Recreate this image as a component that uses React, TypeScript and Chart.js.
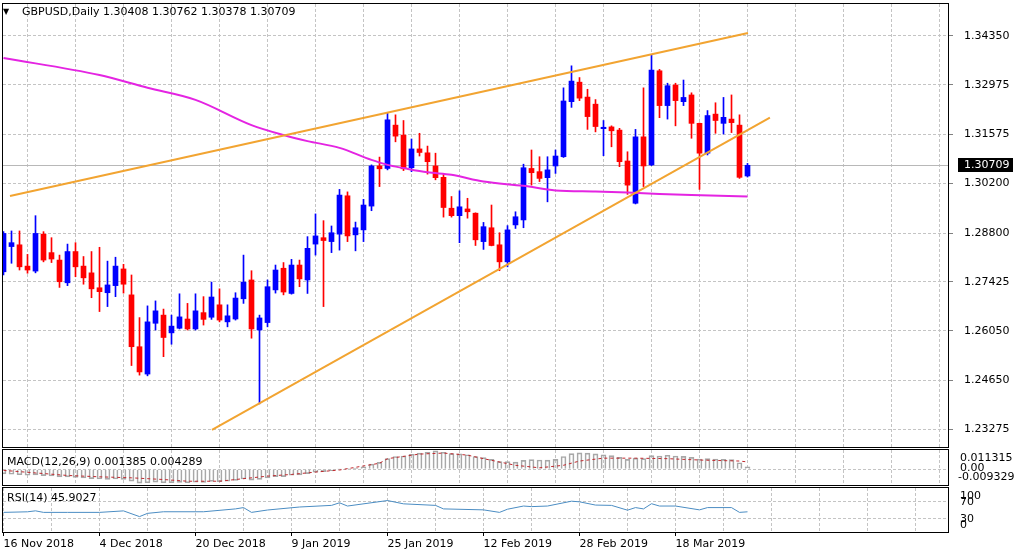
import React, { useEffect, useRef } from "react";
import { Chart, registerables } from "chart.js";

Chart.register(...registerables);

// ---------------- data ----------------
const SYMBOL = "GBPUSD";
const PERIOD = "Daily";

const OPEN = [
  1.2771, 1.2842, 1.2847, 1.2787, 1.2773, 1.2877, 1.2825, 1.2804, 1.274, 1.2828,
  1.2787, 1.2768, 1.2726, 1.2712, 1.2732, 1.2779, 1.2706, 1.256, 1.2483, 1.2626,
  1.2649, 1.2599, 1.2612, 1.2638, 1.261, 1.2656, 1.2643, 1.2678, 1.263, 1.2638,
  1.2695, 1.2748, 1.2607, 1.2628, 1.272, 1.2781, 1.271, 1.279, 1.2748, 1.2849,
  1.2867, 1.2856, 1.2877, 1.2985, 1.2875, 1.2889, 1.2956, 1.3069, 1.3062, 1.3184,
  1.3156, 1.3064, 1.3117, 1.3106, 1.3069, 1.3037, 1.295, 1.2929, 1.2948, 1.2936,
  1.2856, 1.2895, 1.2847, 1.2799, 1.2903, 1.2917, 1.3062, 1.3053, 1.3036, 1.3069,
  1.3095, 1.325, 1.3305, 1.3263, 1.3243, 1.3174, 1.3179, 1.317, 1.3083, 1.2964,
  1.3151, 1.3072, 1.3337, 1.3239, 1.3297, 1.325, 1.3269, 1.3189, 1.3105, 1.3215,
  1.3189, 1.3201, 1.3184, 1.30408,
];
const HIGH = [
  1.2884, 1.2886, 1.2886, 1.282, 1.2929, 1.2884, 1.2867, 1.2818, 1.2849, 1.2853,
  1.2814, 1.2828, 1.284, 1.2801, 1.2812, 1.2792, 1.2762, 1.2642, 1.2675, 1.2689,
  1.2666, 1.2649, 1.2709, 1.2682, 1.2709, 1.2701, 1.2742, 1.2723, 1.2678, 1.2712,
  1.2818, 1.2774, 1.2649, 1.2748, 1.279, 1.2797, 1.2806, 1.2804, 1.287, 1.2934,
  1.2915, 1.29, 1.3003, 1.2996, 1.2911, 1.2975, 1.3072, 1.3094, 1.3219, 1.3213,
  1.3197, 1.3145, 1.3161, 1.3125, 1.3105, 1.3048, 1.2983, 1.2999, 1.2978, 1.2937,
  1.291, 1.2959, 1.2881, 1.2901, 1.294, 1.3074, 1.3114, 1.3095, 1.3095, 1.3114,
  1.3289, 1.3351, 1.3318, 1.3285, 1.3256, 1.3197, 1.3182, 1.3175, 1.3109, 1.3172,
  1.3289, 1.3381, 1.3341, 1.3302, 1.3302, 1.3311, 1.3275, 1.319, 1.3225, 1.3247,
  1.3262, 1.3269, 1.3213, 1.30762,
];
const LOW = [
  1.2762, 1.2795, 1.2776, 1.2767, 1.2768, 1.2799, 1.2797, 1.2727, 1.2732, 1.2757,
  1.2736, 1.2698, 1.2659, 1.2673, 1.2701, 1.2711, 1.2507, 1.248, 1.2478, 1.2607,
  1.2532, 1.2567, 1.261, 1.2607, 1.2607, 1.2621, 1.2637, 1.263, 1.2616, 1.2635,
  1.2682, 1.2584, 1.2399, 1.2616, 1.2711, 1.2706, 1.2708, 1.2729, 1.271, 1.2818,
  1.2673, 1.2825, 1.2832, 1.2856, 1.283, 1.2856, 1.2943, 1.3011, 1.3058, 1.3137,
  1.3056, 1.3053, 1.3097, 1.3046, 1.303, 1.2925, 1.2925, 1.2853, 1.2922, 1.2845,
  1.2834, 1.2844, 1.2774, 1.2785, 1.2893, 1.2895, 1.3015, 1.3025, 1.2968, 1.3048,
  1.3093, 1.3234, 1.3253, 1.3172, 1.3165, 1.3098, 1.3123, 1.3067, 1.2989, 1.2962,
  1.3011, 1.307, 1.3205, 1.3201, 1.3182, 1.3239, 1.3147, 1.3003, 1.31, 1.3161,
  1.3159, 1.3163, 1.3034, 1.30378,
];
const CLOSE = [
  1.2879, 1.2853, 1.2785, 1.2776, 1.2879, 1.2804, 1.2807, 1.2743, 1.2828, 1.2785,
  1.2754, 1.2723, 1.2715, 1.2734, 1.2787, 1.2736, 1.256, 1.2489, 1.263, 1.2661,
  1.2586, 1.2618, 1.2644, 1.261, 1.2661, 1.2637, 1.27, 1.2635, 1.2647, 1.2697,
  1.2742, 1.261, 1.2641, 1.2729, 1.2776, 1.2714, 1.279, 1.2751, 1.2837, 1.2872,
  1.2859, 1.2881, 1.2987, 1.2872, 1.2895, 1.2959, 1.3069, 1.3061, 1.3199, 1.3153,
  1.3061, 1.3117, 1.3107, 1.3081, 1.3036, 1.2952, 1.2929, 1.2954, 1.294, 1.2861,
  1.2898, 1.2845, 1.2799, 1.2889, 1.2926, 1.3064, 1.305, 1.3034, 1.3058, 1.3097,
  1.3252, 1.3308, 1.326, 1.3208, 1.318, 1.3178, 1.3168, 1.3081, 1.3015, 1.3151,
  1.3069, 1.3339, 1.3239, 1.3295, 1.3253, 1.3262, 1.3189, 1.3105, 1.3211, 1.3197,
  1.3206, 1.3191, 1.3037, 1.30709,
];

const PRICE_TICKS = [1.23275, 1.2465, 1.2605, 1.27425, 1.288, 1.302, 1.31575, 1.32975, 1.3435];
const DATE_LABELS = ["16 Nov 2018", "4 Dec 2018", "20 Dec 2018", "9 Jan 2019", "25 Jan 2019", "12 Feb 2019", "28 Feb 2019", "18 Mar 2019"];
const DATE_LABEL_BARS = [0, 12, 24, 36, 48, 60, 72, 84];

// moving average (read at sample bars)
const MA_BARS = [0, 12, 18, 24, 31, 35, 38, 42, 46, 48, 50, 53, 56, 60, 65, 69, 74, 78, 82, 86, 93];
const MA_VALUES = [1.3373, 1.3325, 1.3289, 1.3255, 1.3184, 1.3156, 1.3139, 1.312, 1.3086, 1.3072, 1.3063, 1.3051, 1.3044, 1.3025, 1.3013, 1.3, 1.2997, 1.2994, 1.299, 1.2987, 1.2983];

// trend lines (bar, price endpoints)
const UPPER_TREND_BARS = [0.81, 93.06];
const UPPER_TREND_PRICES = [1.29845, 1.34435];
const LOWER_TREND_BARS = [26.06, 95.8];
const LOWER_TREND_PRICES = [1.23255, 1.3205];

// MACD
const MACD_MAIN = [
  -0.0028, -0.003, -0.0033, -0.0036, -0.0034, -0.0038, -0.004, -0.0045, -0.0045, -0.0048,
  -0.0052, -0.0056, -0.0058, -0.006, -0.0058, -0.006, -0.007, -0.0082, -0.008, -0.0076,
  -0.008, -0.008, -0.0078, -0.008, -0.0077, -0.0078, -0.0072, -0.0073, -0.0071, -0.0066,
  -0.0058, -0.0065, -0.006, -0.0052, -0.0044, -0.0044, -0.0036, -0.0034, -0.0026, -0.0018,
  -0.0014, -0.0009, 0.0002, 0.0004, 0.0006, 0.0014, 0.003, 0.004, 0.0062, 0.0075,
  0.0078, 0.0088, 0.0095, 0.01, 0.0108, 0.01, 0.0092, 0.009, 0.0085, 0.0075,
  0.0068, 0.0058, 0.0045, 0.0045, 0.0042, 0.0052, 0.0056, 0.0054, 0.0053, 0.0058,
  0.0075, 0.0092, 0.0096, 0.0095, 0.009, 0.0085, 0.008, 0.007, 0.0058, 0.0065,
  0.0062, 0.008, 0.0078, 0.0082, 0.0078, 0.0076, 0.007, 0.006, 0.0062, 0.006,
  0.0058, 0.0056, 0.0038, 0.001385,
];
const MACD_SIGNAL_BARS = [0, 4, 8, 12, 16, 20, 23, 27, 29, 33, 36, 39, 42, 45, 47, 48, 52, 55, 58, 60, 64, 67, 70, 72, 75, 79, 83, 87, 92, 93];
const MACD_SIGNAL = [
  -0.0007, -0.0022, -0.0037, -0.0045, -0.0051, -0.0061, -0.0071, -0.0071, -0.0061, -0.0041,
  -0.0031, -0.0017, -0.0005, 0.0019, 0.0035, 0.0062, 0.0089, 0.0095, 0.0083, 0.0062,
  0.0023, 0.0008, 0.0023, 0.0048, 0.0065, 0.0065, 0.0062, 0.0054, 0.0048, 0.004289,
];
const MACD_MAX = 0.011315;
const MACD_MIN = -0.009329;

// RSI
const RSI_BARS = [0, 3, 4, 5, 8, 12, 15, 17, 18, 20, 25, 29, 30, 31, 33, 37, 41, 42, 43, 48, 50, 54, 55, 60, 62, 63, 65, 66, 68, 71, 72, 74, 76, 78, 79, 80, 81, 82, 84, 87, 88, 91, 92, 93];
const RSI_VALUES = [44.6, 45.9, 48.1, 44.6, 44.6, 44.6, 48, 35, 42.4, 46, 46, 52.5, 55.5, 44.6, 50, 56.8, 60.5, 66.4, 59, 71.5, 64, 60.5, 52.5, 50.3, 44.6, 51.8, 59, 57.7, 59, 70, 68.6, 61.2, 60.5, 49.6, 55.5, 52.5, 64.3, 59, 59, 50.3, 55.5, 55.5, 44.6, 45.9027];
const RSI_LEVELS = [30, 70];

// ---------------- style / geometry ----------------
const FONT = '"DejaVu Sans", sans-serif';
const UP_COLOR = "#0000ff";
const DOWN_COLOR = "#ff0000";
const GRID_COLOR = "#c4c4c4";
const ORANGE = "#f2a431";
const MAGENTA = "#e424e2";
const CANVAS_W = 1020;
const PLOT_LEFT = 3;
const PLOT_RIGHT = 948;
const BAR_PX = 8;
const FIRST_BAR_X = 3.5;
const X_MIN = (PLOT_LEFT - FIRST_BAR_X) / BAR_PX;
const X_MAX = X_MIN + (PLOT_RIGHT - PLOT_LEFT) / BAR_PX;
const AXIS_W = CANVAS_W - PLOT_RIGHT;
const GRID_EVERY = 6;
const MAIN_Y_MIN = 1.22776;
const MAIN_Y_MAX = 1.35251;

function zeroPad(s: any) {
  s.paddingTop = 0;
  s.paddingBottom = 0;
  s.paddingLeft = 0;
  s.paddingRight = 0;
}

function xScale(showLabels: boolean): any {
  return {
    type: "linear",
    min: X_MIN,
    max: X_MAX,
    offset: false,
    afterBuildTicks: (s: any) => {
      const t: any[] = [];
      for (let v = 0; v <= X_MAX; v += GRID_EVERY) t.push({ value: v });
      s.ticks = t;
    },
    ticks: {
      display: showLabels,
      autoSkip: false,
      maxRotation: 0,
      minRotation: 0,
      align: "start",
      padding: 2,
      color: "#000",
      font: { family: FONT, size: 11 },
      callback: (v: number) => {
        const k = DATE_LABEL_BARS.indexOf(v);
        return k >= 0 ? DATE_LABELS[k] : "";
      },
    },
    grid: {
      color: GRID_COLOR,
      drawTicks: showLabels,
      tickLength: 4,
      tickColor: (ctx: any) =>
        ctx.tick && DATE_LABEL_BARS.includes(ctx.tick.value) ? "#000" : "rgba(0,0,0,0)",
    },
    border: { display: false, dash: [3, 2] },
    afterFit: (s: any) => {
      s.height = showLabels ? 24 : 0;
      zeroPad(s);
    },
  };
}

function rightAxis(min: number, max: number, ticks: number[], showLabels: boolean): any {
  return {
    type: "linear",
    position: "right",
    min,
    max,
    afterBuildTicks: (s: any) => {
      s.ticks = ticks.map((v) => ({ value: v }));
    },
    ticks: {
      display: showLabels,
      color: "#000",
      padding: 11,
      font: { family: FONT, size: 11 },
      callback: (v: number) => Number(v).toFixed(5),
    },
    grid: { color: GRID_COLOR, drawTicks: showLabels, tickLength: 5, tickColor: "#808080" },
    border: { display: false, dash: [3, 2] },
    afterFit: (s: any) => {
      s.width = AXIS_W;
      zeroPad(s);
    },
  };
}

function strokeBorder(chart: any) {
  const { ctx, chartArea: a } = chart;
  ctx.save();
  ctx.strokeStyle = "#000";
  ctx.lineWidth = 1;
  ctx.strokeRect(a.left - 0.5, a.top - 0.5, a.right - a.left + 1, a.bottom - a.top + 1);
  ctx.restore();
}

function text(ctx: any, s: string, x: number, y: number, color = "#000", size = 11) {
  ctx.save();
  ctx.font = `${size}px ${FONT}`;
  ctx.fillStyle = color;
  ctx.textBaseline = "middle";
  ctx.textAlign = "left";
  ctx.fillText(s, x, y);
  ctx.restore();
}

const baseOptions: any = {
  responsive: false,
  animation: false,
  events: [],
  plugins: { legend: { display: false }, tooltip: { enabled: false } },
};

function mainConfig(): any {
  const bars = OPEN.map((_, i) => i);
  const colors = OPEN.map((o, i) => (CLOSE[i] >= o ? UP_COLOR : DOWN_COLOR));
  const last = OPEN.length - 1;
  const decor = {
    id: "mainDecor",
    beforeDatasetsDraw(chart: any) {
      const { ctx, chartArea: a, scales } = chart;
      const py = Math.round(scales.y.getPixelForValue(CLOSE[last])) + 0.5;
      ctx.save();
      ctx.strokeStyle = "#b8b8b8";
      ctx.lineWidth = 1;
      ctx.beginPath();
      ctx.moveTo(a.left, py);
      ctx.lineTo(a.right, py);
      ctx.stroke();
      ctx.restore();
    },
    afterDraw(chart: any) {
      const { ctx, chartArea: a, scales } = chart;
      strokeBorder(chart);
      // title
      text(ctx, "\u25BC", 3, 12, "#000", 8);
      text(
        ctx,
        `${SYMBOL},${PERIOD} ${OPEN[last].toFixed(5)} ${HIGH[last].toFixed(5)} ${LOW[last].toFixed(5)} ${CLOSE[last].toFixed(5)}`,
        22,
        12.5
      );
      // current price tag
      const py = Math.round(scales.y.getPixelForValue(CLOSE[last]));
      ctx.save();
      ctx.fillStyle = "#000";
      ctx.fillRect(a.right + 10, py - 7, 55, 14);
      ctx.restore();
      text(ctx, CLOSE[last].toFixed(5), a.right + 16, py + 0.5, "#fff");
    },
  };
  return {
    type: "bar",
    data: {
      datasets: [
        {
          type: "line",
          data: UPPER_TREND_BARS.map((b, k) => ({ x: b, y: UPPER_TREND_PRICES[k] })),
          borderColor: ORANGE,
          borderWidth: 2,
          pointRadius: 0,
          order: 0,
        },
        {
          type: "line",
          data: LOWER_TREND_BARS.map((b, k) => ({ x: b, y: LOWER_TREND_PRICES[k] })),
          borderColor: ORANGE,
          borderWidth: 2,
          pointRadius: 0,
          order: 0,
        },
        {
          type: "line",
          data: MA_BARS.map((b, k) => ({ x: b, y: MA_VALUES[k] })),
          borderColor: MAGENTA,
          borderWidth: 2,
          pointRadius: 0,
          cubicInterpolationMode: "monotone",
          order: 1,
        },
        {
          type: "bar",
          data: bars.map((i) => ({ x: i, y: [OPEN[i], CLOSE[i]] })),
          backgroundColor: colors,
          barThickness: 5,
          minBarLength: 1,
          grouped: false,
          order: 2,
        },
        {
          type: "bar",
          data: bars.map((i) => ({ x: i, y: [LOW[i], HIGH[i]] })),
          backgroundColor: colors,
          barThickness: 1,
          grouped: false,
          order: 3,
        },
      ],
    },
    options: {
      ...baseOptions,
      layout: { autoPadding: false, padding: { left: PLOT_LEFT, right: 0, top: 4, bottom: 1 } },
      scales: {
        x: xScale(false),
        y: rightAxis(MAIN_Y_MIN, MAIN_Y_MAX, PRICE_TICKS, true),
      },
    },
    plugins: [decor],
  };
}

function macdConfig(): any {
  const last = MACD_MAIN.length - 1;
  const decor = {
    id: "macdDecor",
    afterDraw(chart: any) {
      const { ctx, chartArea: a, scales } = chart;
      strokeBorder(chart);
      text(ctx, `MACD(12,26,9) ${MACD_MAIN[last].toFixed(6)} ${MACD_SIGNAL[MACD_SIGNAL.length - 1].toFixed(6)}`, 7, 14);
      const y = scales.y;
      text(ctx, MACD_MAX.toFixed(6), a.right + 12, y.getPixelForValue(MACD_MAX) + 8);
      text(ctx, (0).toFixed(2), a.right + 12, y.getPixelForValue(0) - 1);
      text(ctx, MACD_MIN.toFixed(6), a.right + 10, y.getPixelForValue(MACD_MIN) - 8);
    },
  };
  return {
    type: "bar",
    data: {
      datasets: [
        {
          type: "line",
          data: MACD_SIGNAL_BARS.map((b, k) => ({ x: b, y: MACD_SIGNAL[k] })),
          borderColor: "#c0282d",
          borderWidth: 1,
          borderDash: [3, 3],
          pointRadius: 0,
          order: 0,
        },
        {
          type: "bar",
          data: MACD_MAIN.map((v, i) => ({ x: i, y: v })),
          backgroundColor: "rgba(255,255,255,0)",
          borderColor: "#a8a8a8",
          borderWidth: 1,
          barThickness: 5,
          grouped: false,
          order: 1,
        },
      ],
    },
    options: {
      ...baseOptions,
      layout: { autoPadding: false, padding: { left: PLOT_LEFT, right: 0, top: 2, bottom: 1 } },
      scales: {
        x: xScale(false),
        y: rightAxis(MACD_MIN, MACD_MAX, [0], false),
      },
    },
    plugins: [decor],
  };
}

function rsiConfig(): any {
  const decor = {
    id: "rsiDecor",
    afterDraw(chart: any) {
      const { ctx, chartArea: a, scales } = chart;
      strokeBorder(chart);
      text(ctx, `RSI(14) ${RSI_VALUES[RSI_VALUES.length - 1].toFixed(4)}`, 7, 12);
      const y = scales.y;
      text(ctx, "100", a.right + 12, y.getPixelForValue(100) + 8);
      text(ctx, String(RSI_LEVELS[1]), a.right + 12, y.getPixelForValue(RSI_LEVELS[1]) + 1);
      text(ctx, String(RSI_LEVELS[0]), a.right + 12, y.getPixelForValue(RSI_LEVELS[0]));
      text(ctx, "0", a.right + 12, y.getPixelForValue(0) - 7);
    },
  };
  return {
    type: "line",
    data: {
      datasets: [
        {
          data: RSI_BARS.map((b, k) => ({ x: b, y: RSI_VALUES[k] })),
          borderColor: "#4b8dc3",
          borderWidth: 1,
          pointRadius: 0,
        },
      ],
    },
    options: {
      ...baseOptions,
      layout: { autoPadding: false, padding: { left: PLOT_LEFT, right: 0, top: 2, bottom: 0 } },
      scales: {
        x: xScale(true),
        y: rightAxis(0, 100, RSI_LEVELS, false),
      },
    },
    plugins: [decor],
  };
}

function Panel({ top, height, build }: { top: number; height: number; build: () => any }) {
  const ref = useRef<HTMLCanvasElement | null>(null);
  useEffect(() => {
    if (!ref.current) return;
    const chart = new Chart(ref.current, build());
    return () => chart.destroy();
  }, []);
  return (
    <canvas
      ref={ref}
      width={CANVAS_W}
      height={height}
      style={{ position: "absolute", left: 0, top, width: CANVAS_W, height }}
    />
  );
}

export default function App() {
  return (
    <div
      style={{
        position: "absolute",
        left: 0,
        top: 0,
        width: CANVAS_W,
        height: 556,
        background: "#fff",
        overflow: "hidden",
      }}
    >
      <Panel top={0} height={448} build={mainConfig} />
      <Panel top={448} height={38} build={macdConfig} />
      <Panel top={486} height={70} build={rsiConfig} />
    </div>
  );
}
